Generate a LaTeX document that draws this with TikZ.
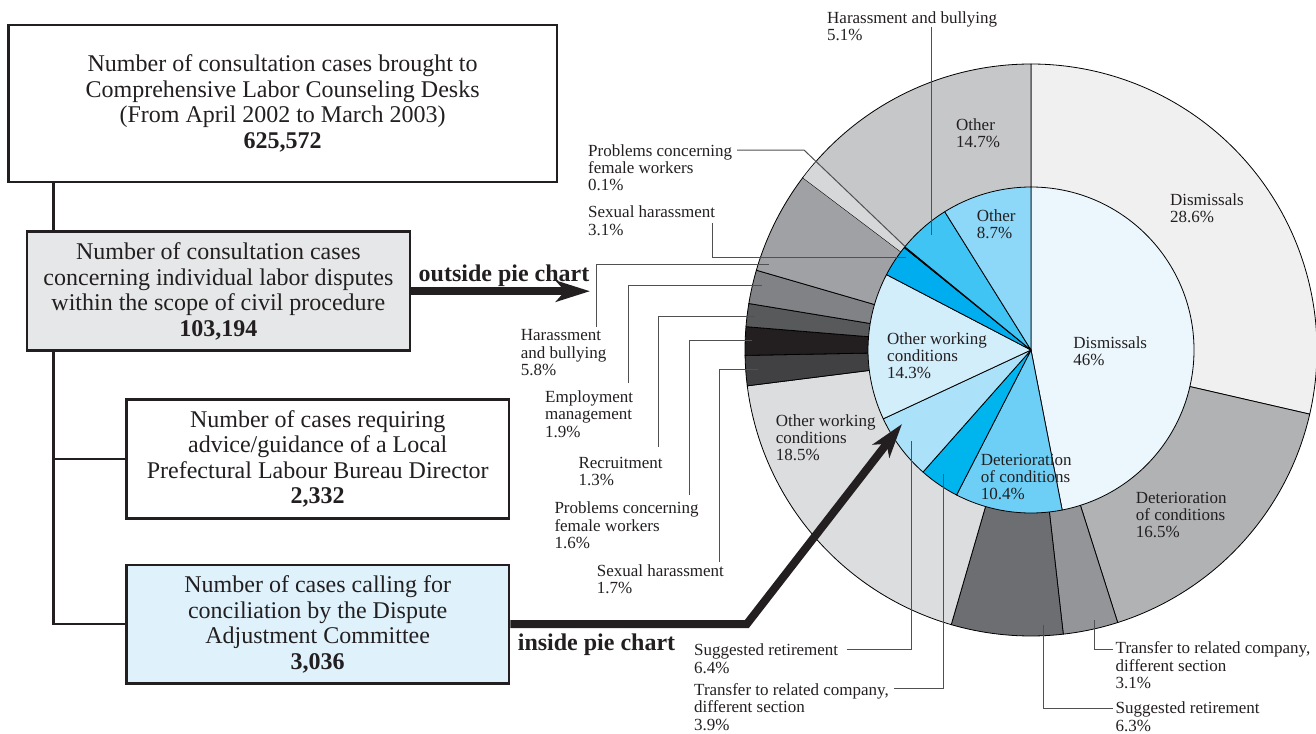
\documentclass[tikz,border=0pt]{standalone}
\usepackage{fontspec}
\setmainfont{Liberation Serif}
\usetikzlibrary{arrows.meta,calc}
\definecolor{ink}{HTML}{231F20}
\definecolor{leadc}{HTML}{505052}
\definecolor{boxgray}{HTML}{E6E7E8}
\definecolor{boxblue}{HTML}{DFF2FC}
\definecolor{o1}{HTML}{F0F0F1}
\definecolor{o2}{HTML}{B1B2B4}
\definecolor{o3}{HTML}{939598}
\definecolor{o4}{HTML}{6D6E71}
\definecolor{o5}{HTML}{DCDDDF}
\definecolor{o6}{HTML}{414042}
\definecolor{o7}{HTML}{231F20}
\definecolor{o8}{HTML}{58595B}
\definecolor{o9}{HTML}{808285}
\definecolor{o10}{HTML}{A0A1A4}
\definecolor{o11}{HTML}{C6C7C9}
\definecolor{ostrip}{HTML}{D6D7D9}
\definecolor{i1}{HTML}{EBF7FD}
\definecolor{i2}{HTML}{6DCFF6}
\definecolor{i3}{HTML}{00B4EE}
\definecolor{i4}{HTML}{ABE2FA}
\definecolor{i5}{HTML}{D2EEFB}
\definecolor{i6}{HTML}{00AEEF}
\definecolor{i7}{HTML}{231F20}
\definecolor{i8}{HTML}{40C4F4}
\definecolor{i9}{HTML}{8DD8F8}
\tikzset{
  box/.style={draw=ink, line width=2.5pt, inner sep=0pt, align=center, text=ink,
    font=\fontsize{24}{25.5}\selectfont},
  lab/.style={anchor=west, inner sep=0pt, align=left, text=ink,
    font=\fontsize{17}{17.3}\selectfont},
  arrowlab/.style={anchor=base, inner sep=0pt, text=ink,
    font=\fontsize{24}{25.5}\selectfont\bfseries},
  leader/.style={draw=leadc, line width=1pt},
  slice/.style={draw=black, line width=0.8pt, line join=round},
  conn/.style={draw=ink, line width=2.5pt},
  bigarrow/.style={draw=ink, line width=8pt, line join=miter,
    -{Stealth[length=34pt,width=21pt,inset=9pt]}}
}
\newcommand\pslice[5]{%
  \filldraw[slice,fill=#5] (C) -- ++({#3*#1-90}:#4)
    arc[start angle={#3*#1-90}, end angle={#3*#2-90}, radius=#4] -- cycle;}
\begin{document}
\begin{tikzpicture}[x=1pt,y=-1pt]
\useasboundingbox (0,0) rectangle (1316,733);
\coordinate (C) at (1031,350);

% ---------- outer ring ----------
\pslice{0}{28.6}{3.6}{286}{o1}
\pslice{28.6}{45.1}{3.6}{286}{o2}
\pslice{45.1}{48.2}{3.6}{286}{o3}
\pslice{48.2}{54.5}{3.6}{286}{o4}
\pslice{54.5}{73.0}{3.6}{286}{o5}
\pslice{73.0}{74.7}{3.6}{286}{o6}
\pslice{74.7}{76.3}{3.6}{286}{o7}
\pslice{76.3}{77.6}{3.6}{286}{o8}
\pslice{77.6}{79.5}{3.6}{286}{o9}
\pslice{79.5}{85.3}{3.6}{286}{o10}
\pslice{85.3}{100}{3.6}{286}{o11}
\coordinate (l2c) at (905,246.5);
\fill[ostrip] ($(C)+(217.08:163)$) -- ($(C)+(217.08:285.5)$)
   arc[start angle=217.08, end angle=221.2, radius=285.5] -- (l2c) -- cycle;

% ---------- inner pie ----------
\pslice{0}{46}{3.673469}{163}{i1}
\pslice{46}{56.4}{3.673469}{163}{i2}
\pslice{56.4}{60.3}{3.673469}{163}{i3}
\pslice{60.3}{66.7}{3.673469}{163}{i4}
\pslice{66.7}{81.0}{3.673469}{163}{i5}
\pslice{81.0}{84.1}{3.673469}{163}{i6}
\pslice{84.1}{84.2}{3.673469}{163}{i7}
\pslice{84.2}{89.3}{3.673469}{163}{i8}
\pslice{89.3}{98}{3.673469}{163}{i9}

% ---------- labels inside the pie ----------
\node[lab] (tOth1) at (956,132.9) {Other\\14.7\%};
\node[lab] (tOth2) at (976.7,224.2) {Other\\8.7\%};
\node[lab] (tDis1) at (1169.8,208.4) {Dismissals\\28.6\%};
\node[lab] (tDis2) at (1073.2,351) {Dismissals\\46\%};
\node[lab] (tOwc2) at (887,355.9) {Other working\\conditions\\14.3\%};
\node[lab] (tOwc1) at (775.7,437.9) {Other working\\conditions\\18.5\%};
\node[lab] (tDet2) at (980.7,477) {Deterioration\\of conditions\\10.4\%};
\node[lab] (tDet1) at (1135.7,515) {Deterioration\\of conditions\\16.5\%};

% ---------- labels outside the pie ----------
\node[lab] (tHb51) at (827,26.2) {Harassment and bullying\\5.1\%};
\node[lab] (tPf01) at (588,167.6) {Problems concerning\\female workers\\0.1\%};
\node[lab] (tSh31) at (588,220.8) {Sexual harassment\\3.1\%};
\node[lab] (tHb58) at (520.7,352.6) {Harassment\\and bullying\\5.8\%};
\node[lab] (tEm19) at (545,414.1) {Employment\\management\\1.9\%};
\node[lab] (tRc13) at (578.3,471.7) {Recruitment\\1.3\%};
\node[lab] (tPf16) at (554.3,525.5) {Problems concerning\\female workers\\1.6\%};
\node[lab] (tSh17) at (596.7,579.2) {Sexual harassment\\1.7\%};
\node[lab] (tSr64) at (694,658.7) {Suggested retirement\\6.4\%};
\node[lab] (tTr39) at (694,706.9) {Transfer to related company,\\different section\\3.9\%};
\node[lab] (tTr31) at (1115.5,665.4) {Transfer to related company,\\different section\\3.1\%};
\node[lab] (tSr63) at (1115.5,716.7) {Suggested retirement\\6.3\%};

% ---------- leader lines ----------
\coordinate (l1a) at (931.8,27); \coordinate (l1b) at (931.8,235);
\draw[leader] (l1a) -- (l1b);
\coordinate (l2a) at (737,150); \coordinate (l2b) at (804,150);
\draw[leader] (l2a) -- (l2b) -- (l2c);
\coordinate (l3a) at (712.3,223); \coordinate (l3b) at (712.3,257.3); \coordinate (l3c) at (906,257.3);
\draw[leader] (l3a) -- (l3b) -- (l3c);
\coordinate (l4a) at (596.7,326.7); \coordinate (l4c) at (769.3,264.3);
\draw[leader] (l4a) |- (l4c);
\coordinate (l5a) at (628.3,383); \coordinate (l5c) at (761.7,285.7);
\draw[leader] (l5a) |- (l5c);
\coordinate (l6a) at (658.3,446.7); \coordinate (l6c) at (755,316.5);
\draw[leader] (l6a) |- (l6c);
\coordinate (l7a) at (689.3,495); \coordinate (l7c) at (752,340.5);
\draw[leader] (l7a) |- (l7c);
\coordinate (l8a) at (719.3,561.7); \coordinate (l8c) at (758.3,369.3);
\draw[leader] (l8a) |- (l8c);
\coordinate (l9a) at (846.7,649.3); \coordinate (l9c) at (911.7,440.7);
\draw[leader] (l9a) -| (l9c);
\coordinate (l10a) at (894,688.3); \coordinate (l10c) at (943,474);
\draw[leader] (l10a) -| (l10c);
\coordinate (l11a) at (1094.5,620); \coordinate (l11c) at (1113,649.3);
\draw[leader] (l11a) |- (l11c);
\coordinate (l12a) at (1043.5,625); \coordinate (l12c) at (1113,708.3);
\draw[leader] (l12a) |- (l12c);

% ---------- boxes ----------
\node[box, fill=white, minimum width=548.4pt, minimum height=156.7pt] (b1) at (282.6,103.4)
  {Number of consultation cases brought to\\Comprehensive Labor Counseling Desks\\(From April 2002 to March 2003)\\\textbf{625,572}};
\node[box, fill=boxgray, minimum width=383.2pt, minimum height=119pt] (b2) at (218.4,291.2)
  {Number of consultation cases\\concerning individual labor disputes\\within the scope of civil procedure\\\textbf{103,194}};
\node[box, fill=white, minimum width=382.7pt, minimum height=119pt] (b3) at (317.7,458.8)
  {Number of cases requiring\\advice/guidance of a Local\\Prefectural Labour Bureau Director\\\textbf{2,332}};
\node[box, fill=boxblue, minimum width=382.7pt, minimum height=118.3pt] (b4) at (317.7,624.2)
  {Number of cases calling for\\conciliation by the Dispute\\Adjustment Committee\\\textbf{3,036}};

% ---------- tree connectors ----------
\coordinate (trunk) at (53.6,0);
\draw[conn] (b1.south -| trunk) -- (b2.north -| trunk);
\draw[conn] (b2.south -| trunk) |- (b4.west);
\draw[conn] (b3.west) -- (b3.west -| trunk);

% ---------- thick arrows ----------
\coordinate (tipOut) at (590,291.2);
\draw[bigarrow] (b2.east) -- (tipOut);
\node[arrowlab] (lOut) at (504,281) {outside pie chart};
\coordinate (bend) at (746.7,624.2);
\coordinate (tipIn) at (902,424);
\draw[bigarrow] (b4.east) -- (bend) -- (tipIn);
\node[arrowlab] (lIn) at (596.5,650.5) {inside pie chart};
\end{tikzpicture}
\end{document}
